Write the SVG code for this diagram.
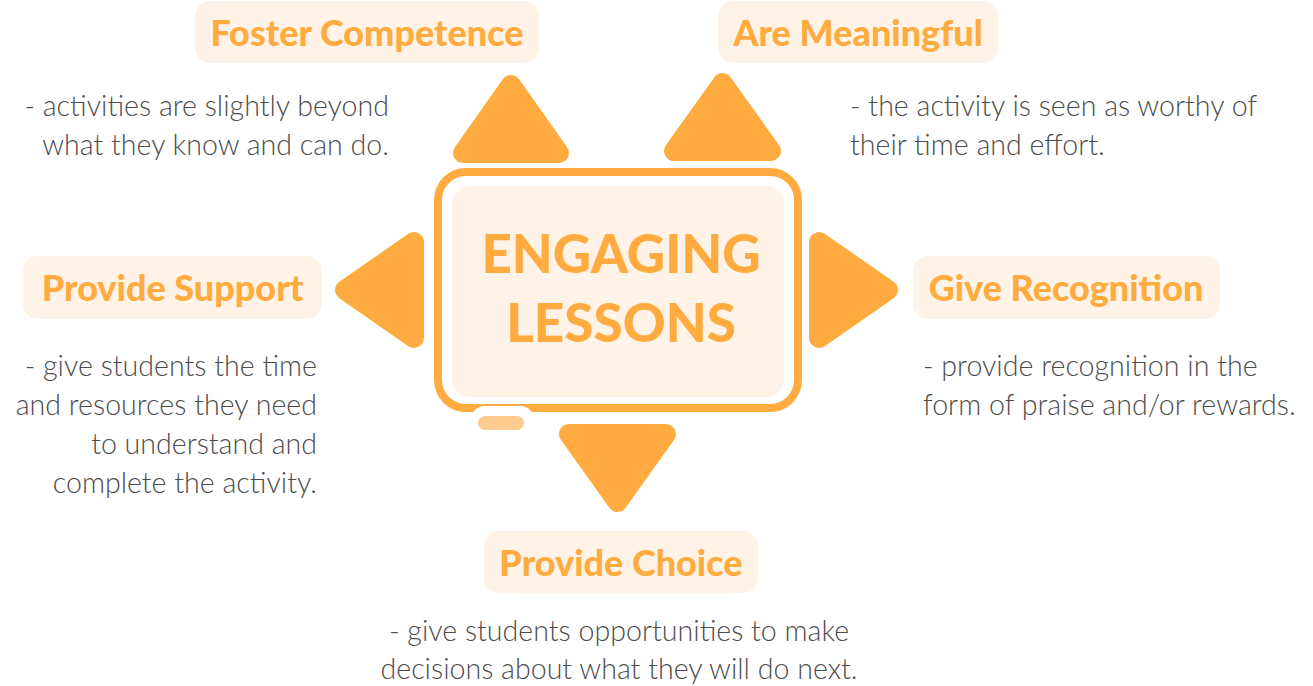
<svg xmlns="http://www.w3.org/2000/svg" width="1313" height="686" viewBox="0 0 1313 686">
<style>
.lbl{fill:#FEF3E6}
.lt{font-family:Lato,"Liberation Sans",sans-serif;font-weight:900;font-size:36px;fill:#FFAB40;text-anchor:middle}
.bd{font-family:Lato,"Liberation Sans",sans-serif;font-weight:300;font-size:28.6px;fill:#4D4D4D}
.tri{fill:#FFAB40;stroke:#FFAB40;stroke-width:20;stroke-linejoin:round}
</style>
<rect width="1313" height="686" fill="#FFFFFF"/>
<g id="center">
<rect x="438" y="172" width="360" height="236" rx="28" fill="none" stroke="#FFAB40" stroke-width="8"/>
<rect x="452" y="186" width="332" height="211" rx="18" fill="#FEF3E6"/>
<rect x="472" y="406" width="61" height="34" rx="12" fill="#FFFFFF"/>
<rect x="478" y="416" width="46" height="14" rx="7" fill="#FFCB8E"/>
<text x="621" y="273" style="font-family:Lato,'Liberation Sans',sans-serif;font-weight:900;font-size:53px;fill:#FFAB40;text-anchor:middle">ENGAGING</text>
<text x="621" y="342" style="font-family:Lato,'Liberation Sans',sans-serif;font-weight:900;font-size:53px;fill:#FFAB40;text-anchor:middle">LESSONS</text>
</g>
<g id="connectors">
<polygon class="tri" points="463,153 559,153 511,85"/>
<polygon class="tri" points="674,151 771,151 722.5,83"/>
<polygon class="tri" points="345,290 414,242 414,338"/>
<polygon class="tri" points="819,242 819,338 888,290"/>
<polygon class="tri" points="569,434 666,434 617.5,502"/>
</g>
<g id="foster">
<rect class="lbl" x="195" y="1" width="344" height="62" rx="15"/>
<text class="lt" x="367" y="46">Foster Competence</text>
<text class="bd" x="389" y="116" text-anchor="end">- activities are slightly beyond</text>
<text class="bd" x="389" y="155" text-anchor="end">what they know and can do.</text>
</g>
<g id="meaningful">
<rect class="lbl" x="718" y="1" width="280" height="62" rx="15"/>
<text class="lt" x="858" y="46">Are Meaningful</text>
<text class="bd" x="850" y="116">- the activity is seen as worthy of</text>
<text class="bd" x="850" y="155">their time and effort.</text>
</g>
<g id="support">
<rect class="lbl" x="23" y="256" width="299" height="63" rx="15"/>
<text class="lt" x="172.5" y="301">Provide Support</text>
<text class="bd" x="317" y="376" text-anchor="end">- give students the time</text>
<text class="bd" x="317" y="415" text-anchor="end">and resources they need</text>
<text class="bd" x="317" y="454" text-anchor="end">to understand and</text>
<text class="bd" x="317" y="493" text-anchor="end">complete the activity.</text>
</g>
<g id="recognition">
<rect class="lbl" x="913" y="256" width="307" height="63" rx="15"/>
<text class="lt" x="1066" y="301">Give Recognition</text>
<text class="bd" x="923" y="376">- provide recognition in the</text>
<text class="bd" x="923" y="415">form of praise and/or rewards.</text>
</g>
<g id="choice">
<rect class="lbl" x="484" y="531" width="274" height="62" rx="15"/>
<text class="lt" x="621" y="576">Provide Choice</text>
<text class="bd" x="619" y="641" text-anchor="middle">- give students opportunities to make</text>
<text class="bd" x="619" y="679" text-anchor="middle">decisions about what they will do next.</text>
</g>
</svg>
